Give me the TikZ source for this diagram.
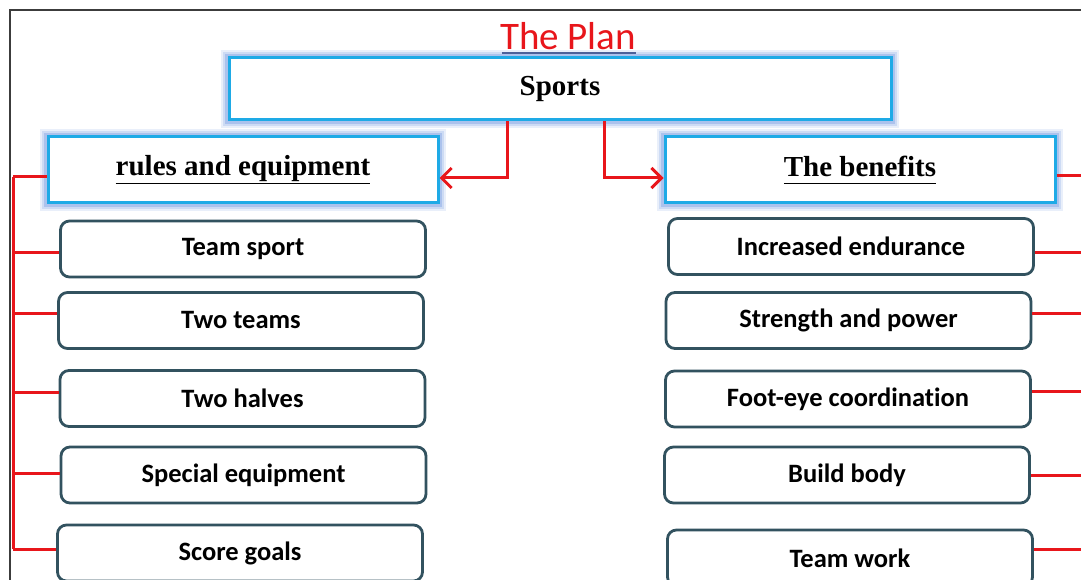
\documentclass[tikz,border=0pt]{standalone}
\usepackage{fontspec}
\setmainfont{Liberation Serif}
\newfontfamily\calfont[Ligatures=NoCommon]{Carlito}
\usetikzlibrary{arrows.meta}
\definecolor{redline}{RGB}{232,22,27}
\definecolor{cyanb}{RGB}{30,170,230}
\definecolor{glow}{RGB}{110,150,225}
\definecolor{slate}{RGB}{50,82,95}
\definecolor{ulblue}{RGB}{60,72,120}
\definecolor{framec}{RGB}{60,60,60}
\tikzset{
  x=1pt, y=-1pt,
  head/.style={draw=cyanb, line width=3pt, fill=white, inner sep=0pt,
    preaction={draw=glow, line width=16pt, opacity=0.15},
    preaction={draw=glow, line width=12pt, opacity=0.22},
    preaction={draw=glow, line width=8pt, opacity=0.35},
    font=\fontsize{29}{32}\selectfont\bfseries},
  item/.style={draw=slate, line width=2.8pt, rounded corners=9pt, fill=white,
    minimum width=365pt, minimum height=56pt, inner sep=0pt,
    font=\calfont\fontsize{26.5}{29}\selectfont\bfseries},
  link/.style={draw=redline, line width=3pt},
  arr/.style={link, -{Straight Barb[length=10pt,width=20pt,line width=3pt]}},
}
\begin{document}
\begin{tikzpicture}
\useasboundingbox (0,0) rectangle (1081,580);
\fill[white] (0,0) rectangle (1081,580);
% frame
\draw[framec, line width=1.5pt] (10,580) -- (10,10) -- (1081,10);
% title
\node[text=redline, font=\calfont\fontsize{39}{42}\selectfont, inner sep=0pt] (title) at (568,36) {The Plan};
\draw[ulblue, line width=2pt] (502,53) -- (636,53);
% header boxes
\node[head, minimum width=662pt, minimum height=62pt] (sports) at (560,89) {Sports};
\node[head, minimum width=390pt, minimum height=66pt] (rules) at (243,170) {\underline{\vphantom{pq}rules and equipment}};
\node[head, minimum width=390pt, minimum height=66pt] (benefits) at (860,170) {\underline{\vphantom{pq}The benefits}};
% left items
\node[item] (l1) at (243,249) {Team sport};
\node[item] (l2) at (241,320.5) {Two teams};
\node[item] (l3) at (242.5,398.5) {Two halves};
\node[item] (l4) at (243.5,475) {Special equipment};
\node[item] (l5) at (240,553) {Score goals};
% right items
\node[item] (r1) at (851,246.5) {Increased endurance};
\node[item] (r2) at (848.5,320.5) {Strength and power};
\node[item] (r3) at (848,399) {Foot-eye coordination};
\node[item] (r4) at (847,475) {Build body};
\node[item] (r5) at (850,558) {Team work};
% arrows from Sports
\draw[arr] (sports.south -| 507,0) |- (rules.east |- 0,178);
\draw[arr] (sports.south -| 604,0) |- (benefits.west |- 0,178);
% left bus
\coordinate (lb0) at (13,177);
\coordinate (lb5) at (13,549);
\draw[link] (lb0) -- (lb5);
\draw[link] (lb0) -- (rules.west |- 0,177);
\draw[link] (13,252) -- (l1.west |- 0,252);
\draw[link] (13,313) -- (l2.west |- 0,313);
\draw[link] (13,392) -- (l3.west |- 0,392);
\draw[link] (13,473) -- (l4.west |- 0,473);
\draw[link] (13,549) -- (l5.west |- 0,549);
% right branches
\coordinate (rb0) at (1081,176);
\draw[link] (benefits.east |- rb0) -- (rb0);
\draw[link] (r1.east |- 0,252) -- (1081,252);
\draw[link] (r2.east |- 0,313) -- (1081,313);
\draw[link] (r3.east |- 0,391) -- (1081,391);
\draw[link] (r4.east |- 0,475) -- (1081,475);
\draw[link] (r5.east |- 0,549) -- (1081,549);
\end{tikzpicture}
\end{document}
